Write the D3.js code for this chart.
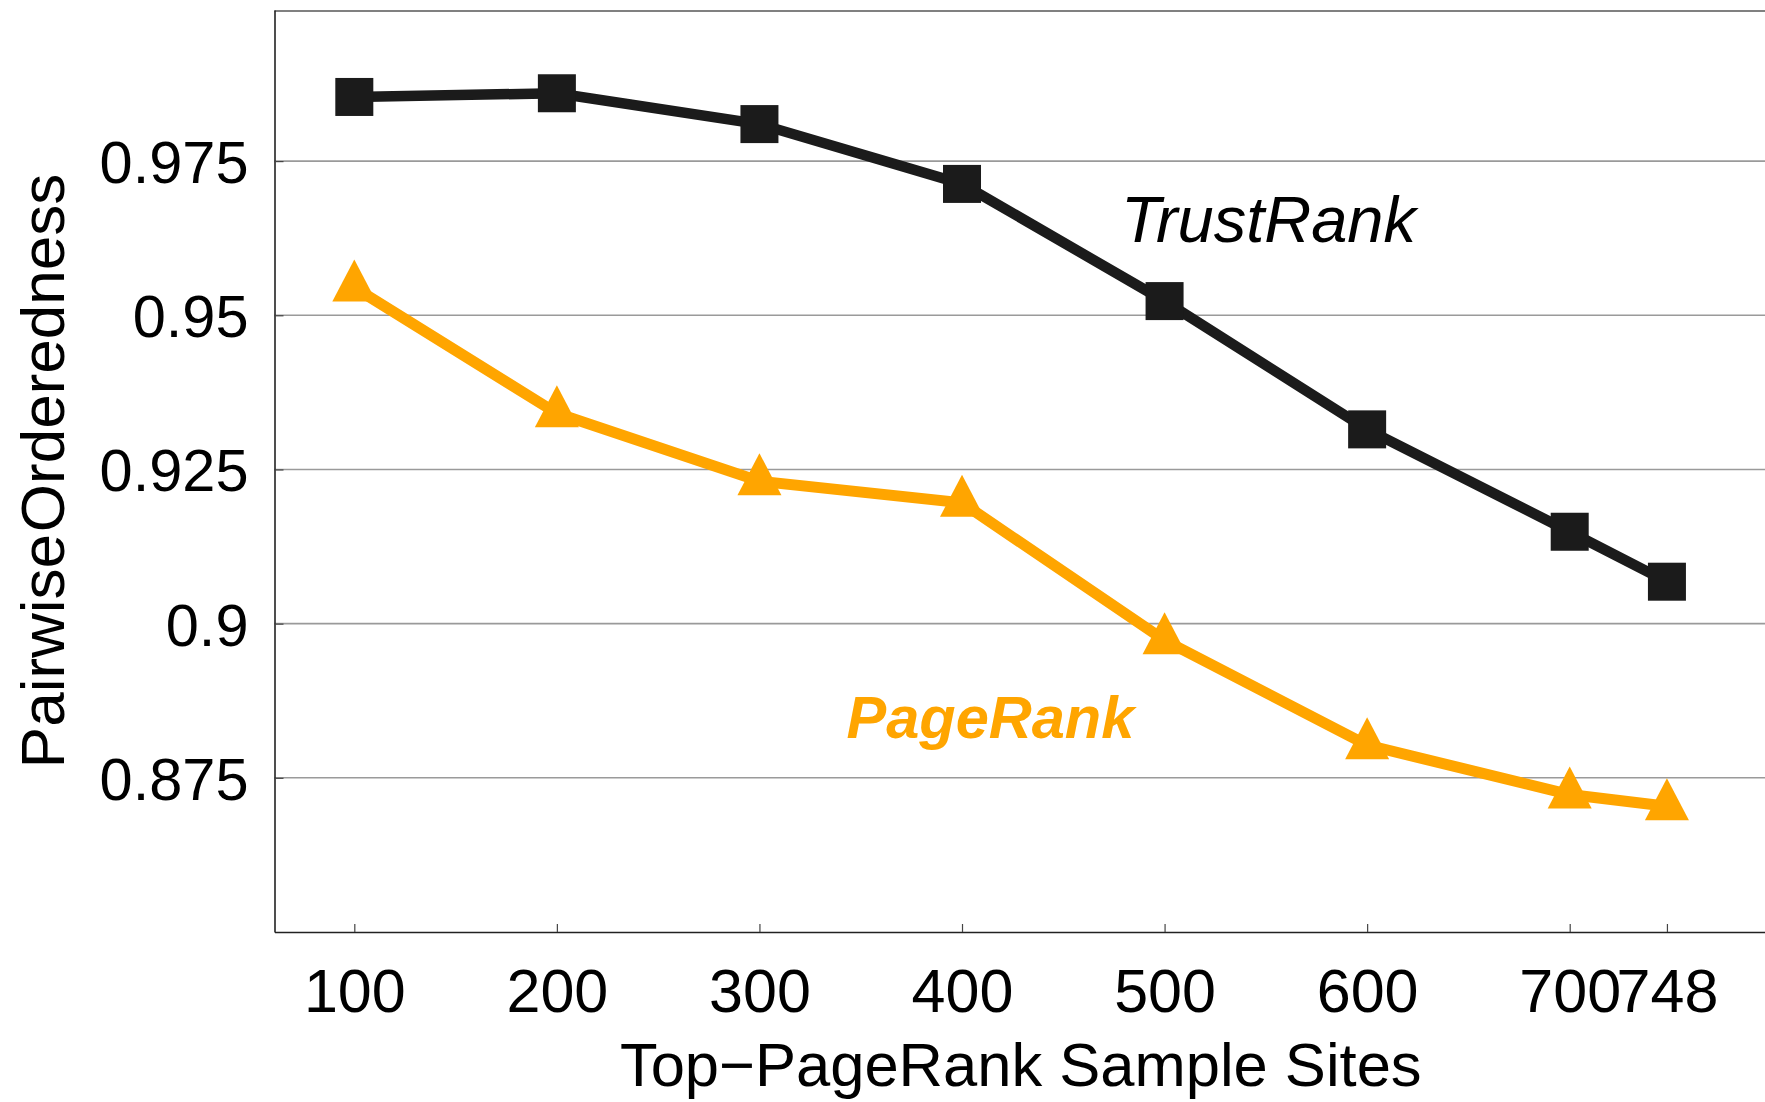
<!DOCTYPE html>
<html>
<head>
<meta charset="utf-8">
<script src="https://cdn.jsdelivr.net/npm/d3@7"></script>
<style>
  body { margin: 0; background: #fff; }
  svg { display: block; font-family: "Liberation Sans", Arial, sans-serif; }
</style>
</head>
<body>
<svg id="chart" width="1765" height="1102"></svg>
<script>
// sample sizes (x) and the two series
var sampleSites = [100, 200, 300, 400, 500, 600, 700, 748];
var trustRank = [0.9854, 0.9860, 0.9810, 0.9713, 0.9523, 0.9315, 0.9149, 0.9068];
var pageRank  = [0.9545, 0.9341, 0.9231, 0.9196, 0.8973, 0.8803, 0.8723, 0.8704];
var yTicks = [0.875, 0.9, 0.925, 0.95, 0.975];
var xTicks = [100, 200, 300, 400, 500, 600, 700, 748];

// plot box (note: "top" is taken by window.top, so use plotTop etc.)
var plotLeft = 274.5, plotTop = 10, plotBottom = 932, plotRight = 1767;

var svg = d3.select("#chart");

var x = d3.scaleLinear().domain([60.6, 797.4]).range([plotLeft, plotRight]);
var y = d3.scaleLinear().domain([0.85, 0.9995]).range([plotBottom, plotTop]);

// grid lines
svg.append("g")
    .selectAll("line")
    .data(yTicks)
    .enter().append("line")
    .attr("x1", plotLeft).attr("x2", plotRight)
    .attr("y1", function(d) { return y(d); })
    .attr("y2", function(d) { return y(d); })
    .attr("stroke", "#9a9a9a")
    .attr("stroke-width", 1.6);

// top border
svg.append("line")
    .attr("x1", plotLeft).attr("x2", plotRight)
    .attr("y1", plotTop + 1).attr("y2", plotTop + 1)
    .attr("stroke", "#808080")
    .attr("stroke-width", 2);

// x axis
var xAxis = svg.append("g")
    .attr("transform", "translate(0," + plotBottom + ")")
    .call(d3.axisBottom(x)
        .tickValues(xTicks)
        .tickFormat(d3.format("d"))
        .tickSizeInner(-8)
        .tickSizeOuter(0)
        .tickPadding(37));
xAxis.select(".domain").attr("stroke", "#222").attr("stroke-width", 1.6);
xAxis.selectAll(".tick line").attr("stroke", "#444").attr("stroke-width", 1.2);
xAxis.selectAll("text")
    .attr("font-size", 61)
    .attr("font-family", "Liberation Sans, Arial, sans-serif")
    .attr("fill", "#000");

// y axis
var yAxis = svg.append("g")
    .attr("transform", "translate(" + plotLeft + ",0)")
    .call(d3.axisLeft(y)
        .tickValues(yTicks)
        .tickFormat(function(d) { return String(d); })
        .tickSizeInner(-9)
        .tickSizeOuter(0)
        .tickPadding(26));
yAxis.select(".domain").attr("stroke", "#222").attr("stroke-width", 1.6);
yAxis.selectAll(".tick line").attr("stroke", "#444").attr("stroke-width", 1.2);
yAxis.selectAll("text")
    .attr("font-size", 59.5)
    .attr("font-family", "Liberation Sans, Arial, sans-serif")
    .attr("fill", "#000")
    .attr("dy", "0.36em");

// axis titles
svg.append("text")
    .attr("x", (plotLeft + plotRight) / 2)
    .attr("y", 1086)
    .attr("text-anchor", "middle")
    .attr("font-size", 61.5)
    .text("Top\u2212PageRank Sample Sites");

svg.append("text")
    .attr("transform", "translate(64," + ((plotTop + plotBottom) / 2) + ") rotate(-90)")
    .attr("text-anchor", "middle")
    .attr("font-size", 62)
    .attr("word-spacing", "-0.25em")
    .text("Pairwise Orderedness");

var line = d3.line()
    .x(function(d) { return x(d[0]); })
    .y(function(d) { return y(d[1]); });

var pageData = d3.zip(sampleSites, pageRank);
var trustData = d3.zip(sampleSites, trustRank);

// PageRank series
svg.append("path")
    .datum(pageData)
    .attr("d", line)
    .attr("fill", "none")
    .attr("stroke", "#ffa500")
    .attr("stroke-width", 11)
    .attr("stroke-linejoin", "miter");

svg.append("g")
    .selectAll("path")
    .data(pageData)
    .enter().append("path")
    .attr("transform", function(d) { return "translate(" + x(d[0]) + "," + y(d[1]) + ")"; })
    .attr("d", "M0,-28L22,14L-22,14Z")
    .attr("fill", "#ffa500");

// TrustRank series
svg.append("path")
    .datum(trustData)
    .attr("d", line)
    .attr("fill", "none")
    .attr("stroke", "#1b1b1b")
    .attr("stroke-width", 10.5)
    .attr("stroke-linejoin", "miter");

svg.append("g")
    .selectAll("rect")
    .data(trustData)
    .enter().append("rect")
    .attr("x", function(d) { return x(d[0]) - 19; })
    .attr("y", function(d) { return y(d[1]) - 19; })
    .attr("width", 38)
    .attr("height", 38)
    .attr("fill", "#1b1b1b");

// series labels
svg.append("text")
    .attr("x", x(478.5))
    .attr("y", y(0.9619))
    .attr("font-size", 65)
    .attr("font-style", "italic")
    .attr("fill", "#000")
    .text("TrustRank");

svg.append("text")
    .attr("x", x(343))
    .attr("y", y(0.8814))
    .attr("font-size", 59.5)
    .attr("font-style", "italic")
    .attr("font-weight", "bold")
    .attr("fill", "#ffa500")
    .text("PageRank");
</script>
</body>
</html>
